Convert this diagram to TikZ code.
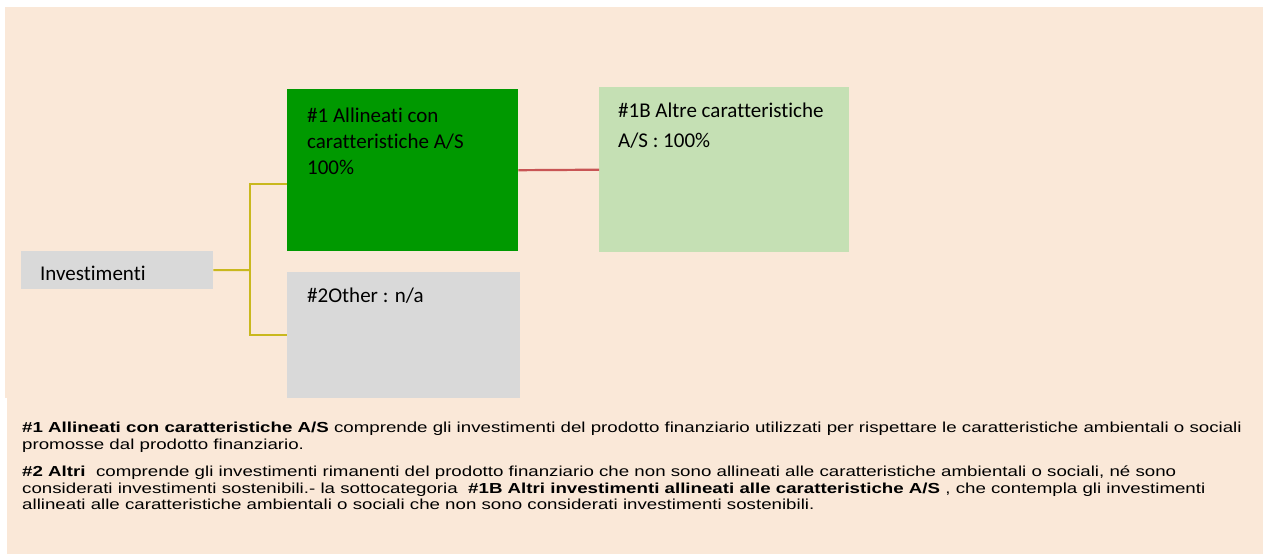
\documentclass[tikz,border=0pt]{standalone}
\usepackage{fontspec}
\setmainfont{Liberation Sans}
\newfontfamily\boxfont[Ligatures=NoCommon]{Carlito}
\newfontfamily\notefont[FakeStretch=1.29]{Liberation Sans}
\usepackage{xcolor}
\usetikzlibrary{positioning,calc}

\definecolor{bgpeach}{RGB}{250,232,216}
\definecolor{boxgreen}{RGB}{0,153,0}
\definecolor{palegreen}{RGB}{197,224,180}
\definecolor{boxgrey}{RGB}{217,217,217}
\definecolor{linkyellow}{RGB}{201,184,30}
\definecolor{linkred}{RGB}{200,85,85}

\begin{document}
\begin{tikzpicture}[x=1pt, y=-1pt,
  box/.style={inner sep=0pt, anchor=north west},
  boxtxt/.style={font=\boxfont\fontsize{21}{26}\selectfont, anchor=base west, align=left, inner sep=0pt},
  notetxt/.style={font=\notefont\fontsize{14.5}{16.5}\selectfont, anchor=base west, align=left, inner sep=0pt},
  yellowlink/.style={draw=linkyellow, line width=2pt},
  redlink/.style={draw=linkred, line width=2.2pt}]
  \useasboundingbox (0,0) rectangle (1263,554);

  % Peach background panels
  \fill[bgpeach] (5,7) rectangle (1263,398);
  \fill[bgpeach] (7,398) rectangle (1263,554);

  % Category boxes
  \node[box, fill=boxgrey, minimum width=192pt, minimum height=38pt] (invest) at (21,251) {};
  \node[box, fill=boxgreen, minimum width=231pt, minimum height=162pt] (allin) at (287,89) {};
  \node[box, fill=boxgrey, minimum width=233pt, minimum height=126pt] (other) at (287,272) {};
  \node[box, fill=palegreen, minimum width=250pt, minimum height=165pt] (altre) at (599,87) {};

  % Texts in the boxes (base = last line)
  \node[boxtxt] (investtxt) at ([shift={(19,29)}]invest.north west) {Investimenti};
  \node[boxtxt] (allintxt) at ([shift={(20,85)}]allin.north west)
    {\#1 Allineati con\\caratteristiche A/S\\100\%};
  \node[boxtxt] (othertxt) at ([shift={(20,30)}]other.north west) {\#2Other : n/a};
  \node[boxtxt, font=\boxfont\fontsize{21}{30}\selectfont] (altretxt)
    at ([shift={(19,60)}]altre.north west) {\#1B Altre caratteristiche\\A/S : 100\%};

  % Connectors
  \coordinate (fork) at (250,270);
  \draw[yellowlink] (invest.east) -- (fork);
  \draw[yellowlink] (fork) |- ([yshift=-14pt]allin.west);
  \draw[yellowlink] (fork) |- (other.west);
  \draw[redlink] (allin.east) -- (altre.west);

  % Explanatory notes
  \node[notetxt] (note1) at (22,449)
    {\textbf{\#1 Allineati con caratteristiche A/S} comprende gli investimenti del prodotto finanziario utilizzati per rispettare le caratteristiche ambientali o sociali\\
     promosse dal prodotto finanziario.};
  \node[notetxt] (note2) at (22,509.5)
    {\textbf{\#2 Altri}\ \ comprende gli investimenti rimanenti del prodotto finanziario che non sono allineati alle caratteristiche ambientali o sociali, né sono\\
     considerati investimenti sostenibili.- la sottocategoria\ \ \textbf{\#1B Altri investimenti allineati alle caratteristiche A/S}\ , che contempla gli investimenti\\
     allineati alle caratteristiche ambientali o sociali che non sono considerati investimenti sostenibili.};
\end{tikzpicture}
\end{document}
